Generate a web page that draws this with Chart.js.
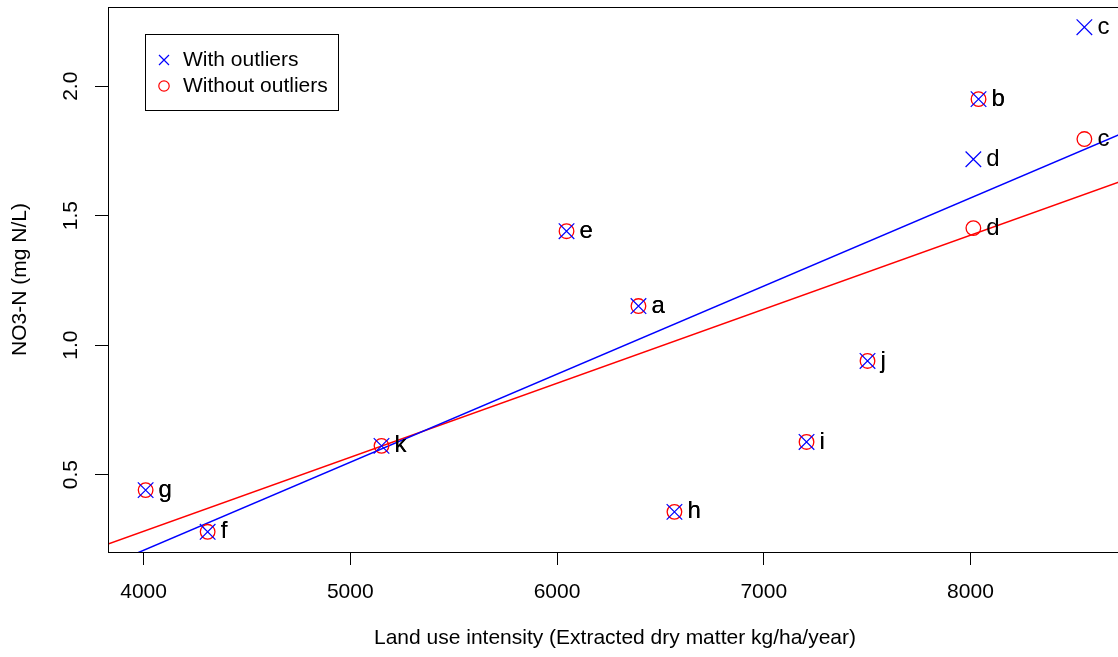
<!DOCTYPE html>
<html>
<head>
<meta charset="utf-8">
<title>NO3-N vs land use intensity</title>
<script src="https://cdn.jsdelivr.net/npm/chart.js@4/dist/chart.umd.min.js"></script>
<style>
  html, body { margin: 0; padding: 0; background: #fff; overflow: hidden; }
  #wrap { width: 1130px; height: 657px; }
</style>
</head>
<body>
<div id="wrap"><canvas id="grafico"></canvas></div>
<script>
// Sites and their measurements
const sitios = ['a', 'b', 'c', 'd', 'e', 'f', 'g', 'h', 'i', 'j', 'k'];
const intensidad = [6394, 8039, 8551, 8014, 6046, 4310, 4010, 6568, 7207, 7502, 5151];
const no3Con = [1.151, 1.950, 2.228, 1.718, 1.440, 0.279, 0.440, 0.356, 0.626, 0.939, 0.611];
const no3Sin = [1.151, 1.950, 1.796, 1.452, 1.440, 0.279, 0.440, 0.356, 0.626, 0.939, 0.611];

// Axis ticks and limits
const ticksX = [4000, 5000, 6000, 7000, 8000];
const ticksY = [0.5, 1.0, 1.5, 2.0];
const limX = [3828, 8733];
const limY = [0.201, 2.306];

const FUENTE = '"Liberation Sans", Arial, Helvetica, sans-serif';

// Least squares line across the x range
function rectaAjuste(xs, ys) {
  const n = xs.length;
  const mx = xs.reduce((s, v) => s + v, 0) / n;
  const my = ys.reduce((s, v) => s + v, 0) / n;
  let sxy = 0, sxx = 0;
  xs.forEach((x, i) => { sxy += (x - mx) * (ys[i] - my); sxx += (x - mx) * (x - mx); });
  const b = sxy / sxx;
  const a = my - b * mx;
  return limX.map(x => ({ x, y: a + b * x }));
}

const puntos = ys => intensidad.map((x, i) => ({ x, y: ys[i] }));

// Frame, y tick labels, axis titles, point names and legend
const extras = {
  id: 'extras',
  afterDraw(chart) {
    const ctx = chart.ctx;
    const area = chart.chartArea;
    const sy = chart.scales.y;
    const sx = chart.scales.x;
    ctx.save();
    ctx.strokeStyle = '#000';
    ctx.lineWidth = 1;
    ctx.strokeRect(area.left + 0.5, area.top + 0.5, area.right - area.left, area.bottom - area.top);

    ctx.fillStyle = '#000';
    ctx.font = '21px ' + FUENTE;
    ctx.textAlign = 'center';
    ctx.textBaseline = 'middle';
    ticksY.forEach(v => {
      ctx.save();
      ctx.translate(71, sy.getPixelForValue(v));
      ctx.rotate(-Math.PI / 2);
      ctx.fillText(v.toFixed(1), 0, 0);
      ctx.restore();
    });

    ctx.save();
    ctx.translate(20, (area.top + area.bottom) / 2);
    ctx.rotate(-Math.PI / 2);
    ctx.fillText('NO3-N (mg N/L)', 0, 0);
    ctx.restore();
    ctx.fillText('Land use intensity (Extracted dry matter kg/ha/year)', (area.left + area.right) / 2, 638);

    // point names, right of each mark (once per series)
    ctx.font = '24px ' + FUENTE;
    ctx.textAlign = 'left';
    sitios.forEach((s, i) => {
      const x = sx.getPixelForValue(intensidad[i]) + 13;
      ctx.fillText(s, x, sy.getPixelForValue(no3Con[i]));
      ctx.fillText(s, x, sy.getPixelForValue(no3Sin[i]));
    });

    // legend
    ctx.lineWidth = 1;
    ctx.strokeStyle = '#000';
    ctx.strokeRect(145.5, 34.5, 193, 76);
    ctx.lineWidth = 1.2;
    ctx.strokeStyle = '#0000ff';
    ctx.beginPath();
    ctx.moveTo(159, 55); ctx.lineTo(169, 65);
    ctx.moveTo(169, 55); ctx.lineTo(159, 65);
    ctx.stroke();
    ctx.strokeStyle = '#ff0000';
    ctx.beginPath();
    ctx.arc(164, 86, 5.2, 0, Math.PI * 2);
    ctx.stroke();
    ctx.font = '21px ' + FUENTE;
    ctx.fillText('With outliers', 183, 60);
    ctx.fillText('Without outliers', 183, 86);
    ctx.restore();
  }
};

new Chart(document.getElementById('grafico'), {
  type: 'scatter',
  data: {
    datasets: [
      {
        label: 'With outliers',
        data: puntos(no3Con),
        pointStyle: 'crossRot',
        pointRadius: 11,
        pointHoverRadius: 11,
        borderColor: '#0000ff',
        borderWidth: 1.2
      },
      {
        label: 'Without outliers',
        data: puntos(no3Sin),
        pointStyle: 'circle',
        pointRadius: 7.3,
        pointHoverRadius: 7.3,
        borderColor: '#ff0000',
        backgroundColor: 'rgba(0,0,0,0)',
        borderWidth: 1.3
      },
      {
        type: 'line',
        label: 'fit with',
        data: rectaAjuste(intensidad, no3Con),
        borderColor: '#0000ff',
        borderWidth: 1.5,
        pointRadius: 0
      },
      {
        type: 'line',
        label: 'fit without',
        data: rectaAjuste(intensidad, no3Sin),
        borderColor: '#ff0000',
        borderWidth: 1.5,
        pointRadius: 0
      }
    ]
  },
  options: {
    responsive: true,
    maintainAspectRatio: false,
    animation: false,
    layout: { autoPadding: false, padding: { top: 7, right: 8, left: 0, bottom: 0 } },
    plugins: { legend: { display: false }, tooltip: { enabled: false } },
    scales: {
      x: {
        type: 'linear',
        min: limX[0],
        max: limX[1],
        afterBuildTicks: s => { s.ticks = ticksX.map(v => ({ value: v })); },
        afterFit: s => { s.height = 105; },
        grid: { drawOnChartArea: false, drawTicks: true, tickLength: 13, color: '#000' },
        border: { display: true, color: '#000' },
        ticks: {
          color: '#000',
          font: { family: FUENTE, size: 21 },
          padding: 15,
          maxRotation: 0,
          callback: v => String(v)
        }
      },
      y: {
        type: 'linear',
        min: limY[0],
        max: limY[1],
        afterBuildTicks: s => { s.ticks = ticksY.map(v => ({ value: v })); },
        afterFit: s => { s.width = 108; },
        grid: { drawOnChartArea: false, drawTicks: true, tickLength: 13, color: '#000' },
        border: { display: true, color: '#000' },
        ticks: { display: false }
      }
    }
  },
  plugins: [extras]
});
</script>
</body>
</html>
